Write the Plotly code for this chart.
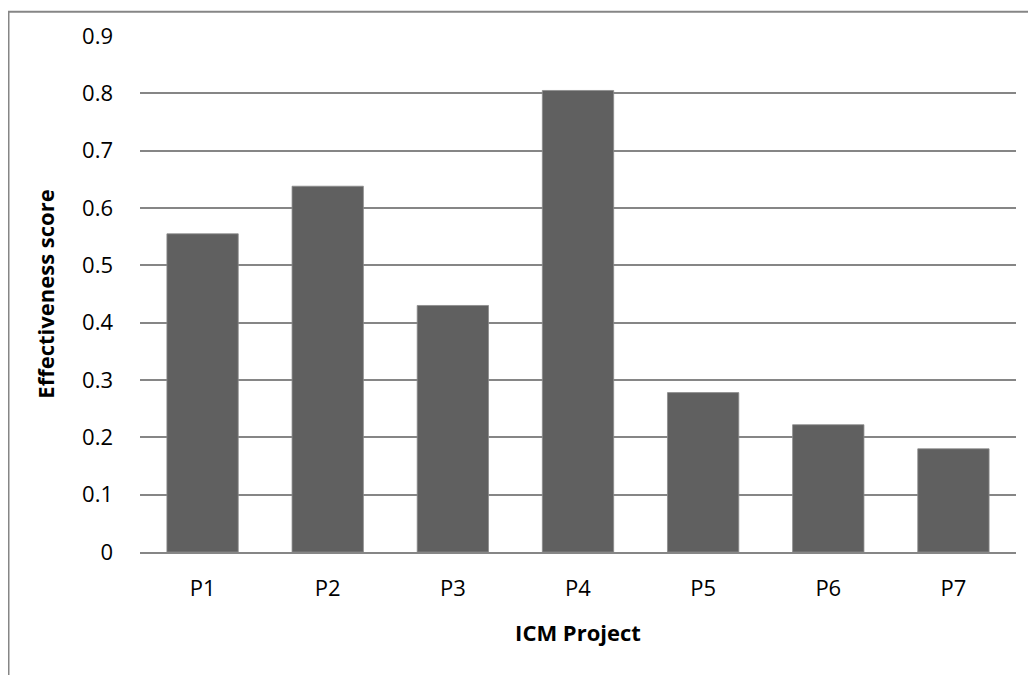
import plotly.graph_objects as go

projects = ["P1", "P2", "P3", "P4", "P5", "P6", "P7"]
scores = [0.555, 0.638, 0.430, 0.805, 0.278, 0.222, 0.180]
y_ticks = [0, 0.1, 0.2, 0.3, 0.4, 0.5, 0.6, 0.7, 0.8, 0.9]
y_tick_labels = ["0", "0.1", "0.2", "0.3", "0.4", "0.5", "0.6", "0.7", "0.8", "0.9"]

FONT = "Open Sans"
GRID = "#868686"

# page has an 8px body margin: figure origin sits at page (8, 8)
L, T, PW, PH = 132, 25, 876, 519.5

fig = go.Figure(
    go.Bar(
        x=projects,
        y=scores,
        marker=dict(color="#606060", line=dict(color="#8c8c8c", width=0.8)),
        width=0.57,
    )
)

fig.update_layout(
    width=1028,
    height=667,
    margin=dict(l=L, r=20, t=T, b=667 - T - PH),
    paper_bgcolor="white",
    plot_bgcolor="white",
    showlegend=False,
    font=dict(family=FONT, color="black", size=22),
    xaxis=dict(
        showgrid=False,
        showline=True,
        linecolor=GRID,
        linewidth=2,
        ticks="",
        tickfont=dict(size=22),
        ticklabelstandoff=16,
        title=dict(text="<b>ICM Project</b>", font=dict(size=22), standoff=24),
    ),
    yaxis=dict(
        range=[0, 0.9],
        tickvals=y_ticks,
        ticktext=y_tick_labels,
        showgrid=True,
        gridcolor=GRID,
        gridwidth=1.5,
        zeroline=False,
        showline=False,
        ticks="",
        tickfont=dict(size=22),
        ticklabelstandoff=26,
        title=dict(text="<b>Effectiveness score</b>", font=dict(size=22), standoff=21),
    ),
    shapes=[
        dict(
            type="rect",
            xref="paper",
            yref="paper",
            x0=(0.5 - L) / PW,
            x1=(1040 - L) / PW,
            y0=(T + PH - 690) / PH,
            y1=(T + PH - 0.5) / PH,
            line=dict(color=GRID, width=2),
            fillcolor="rgba(0,0,0,0)",
            layer="below",
        )
    ],
)

fig.write_html("out.html")
